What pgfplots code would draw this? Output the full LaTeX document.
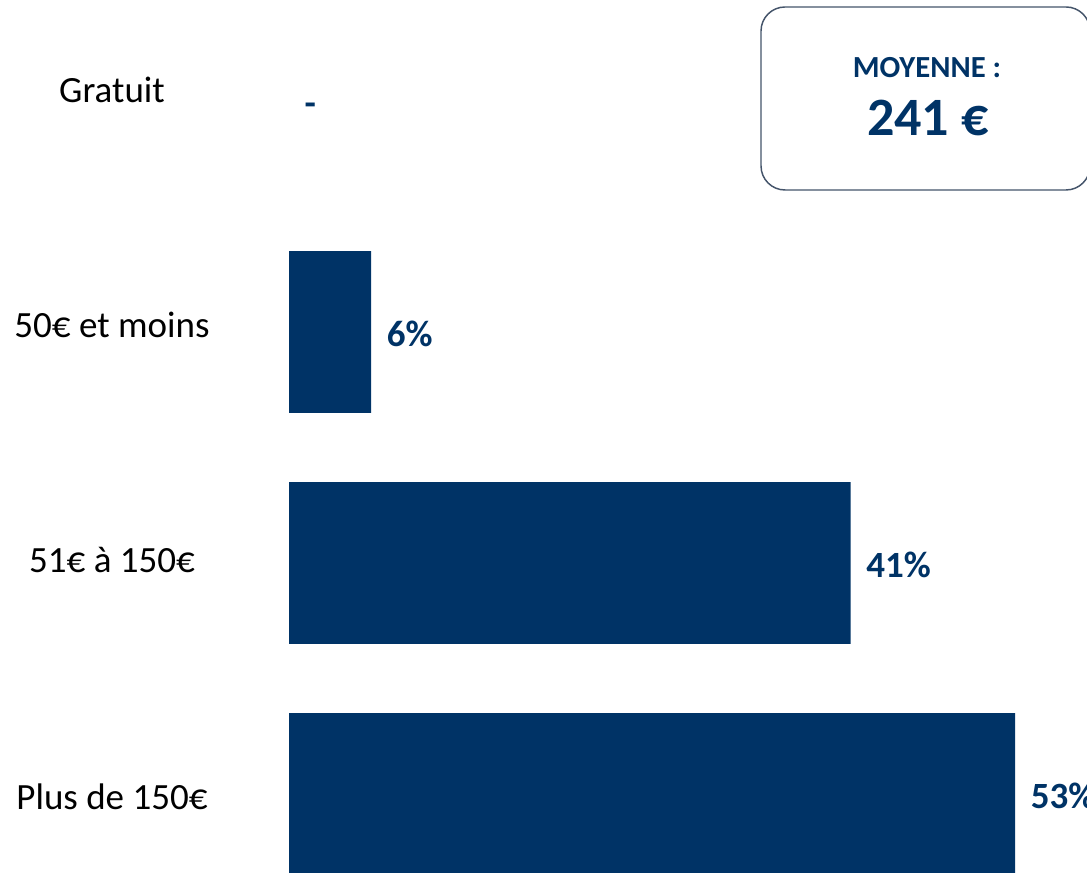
\documentclass[border=0pt]{standalone}
\usepackage{fontspec}
\setmainfont{Carlito}
\usepackage{pgfplots}
\pgfplotsset{compat=1.18}
\definecolor{barblue}{RGB}{0,51,102}
\definecolor{boxgray}{RGB}{68,84,106}
\begin{document}
\begin{tikzpicture}
\useasboundingbox (0,0) rectangle (815.25pt,654.75pt);
\clip (0,0) rectangle (815.25pt,654.75pt);
\begin{axis}[
  at={(216.75pt,-27.375pt)}, anchor=south west,
  scale only axis, width=616.5pt, height=693pt,
  xmin=0, xmax=60, ymin=-0.5, ymax=3.5,
  xbar, bar width=0.7, bar shift=0pt,
  hide x axis,
  axis y line*=left, y axis line style={draw=none},
  ytick={-0.013,1.013,2.03,3.048},
  yticklabels={Plus de 150€, 51€ à 150€, 50€ et moins, Gratuit},
  major tick length=0pt,
  yticklabel style={anchor=center, xshift=-132.75pt, font=\fontsize{27.75}{33}\selectfont, text=black},
  nodes near coords, point meta=explicit symbolic,
  every node near coord/.append style={anchor=west, xshift=8.25pt, yshift=-7.5pt,
    text height=0.65em, text depth=0pt,
    font=\bfseries\fontsize{27.75}{33}\selectfont, text=barblue},
]
\addplot[fill=barblue, draw=none] coordinates {
  (53,0) [53\%]
  (41,1) [41\%]
  (6,2) [6\%]
};
\addplot[fill=none, draw=none] coordinates {
  (0,3) [-]
};
\end{axis}
\draw[boxgray, line width=1.1pt, rounded corners=18pt] (570.75pt,512.25pt) rectangle (817.5pt,649.5pt);
\node[text=barblue, font=\bfseries\fontsize{23}{27}\selectfont] at (695.25pt,603.75pt) {MOYENNE :};
\node[text=barblue, font=\bfseries\fontsize{40.5}{48}\selectfont] at (696pt,566.25pt) {241 €};
\end{tikzpicture}
\end{document}
